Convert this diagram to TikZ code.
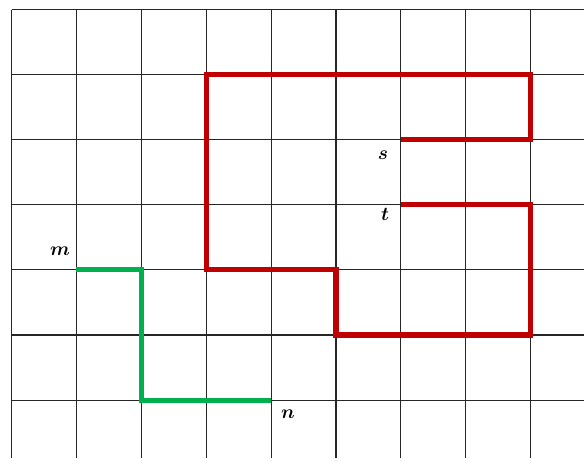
\documentclass[tikz,border=0pt]{standalone}
\usepackage{amsmath,bm}
\begin{document}
\begin{tikzpicture}[
  x=0.75pt, y=-0.75pt,
  grid/.style={draw=black!85, line width=0.8pt},
  redpath/.style={draw={rgb,255:red,192;green,0;blue,0}, line width=3.8pt, line join=miter},
  greenpath/.style={draw={rgb,255:red,0;green,176;blue,80}, line width=3.8pt, line join=miter},
  lab/.style={font=\Large, inner sep=0pt}
]
\useasboundingbox (0,0) rectangle (584,458);
\fill[white] (0,0) rectangle (584,458);

% grid
\foreach \i in {0,...,8}
  \draw[grid] (11.5+64.9*\i,9.5) -- (11.5+64.9*\i,458);
\foreach \j in {0,...,6}
  \draw[grid] (11.5,9.5+65.1*\j) -- (584,9.5+65.1*\j);

% corner points
\coordinate (s) at (11.5+64.9*6,9.5+65.1*2);
\coordinate (r1) at (11.5+64.9*8,9.5+65.1*2);
\coordinate (r2) at (11.5+64.9*8,9.5+65.1*1);
\coordinate (r3) at (11.5+64.9*3,9.5+65.1*1);
\coordinate (r4) at (11.5+64.9*3,9.5+65.1*4);
\coordinate (r5) at (11.5+64.9*5,9.5+65.1*4);
\coordinate (r6) at (11.5+64.9*5,9.5+65.1*5);
\coordinate (r7) at (11.5+64.9*8,9.5+65.1*5);
\coordinate (r8) at (11.5+64.9*8,9.5+65.1*3);
\coordinate (t) at (11.5+64.9*6,9.5+65.1*3);

\coordinate (m) at (11.5+64.9*1,9.5+65.1*4);
\coordinate (g1) at (11.5+64.9*2,9.5+65.1*4);
\coordinate (g2) at (11.5+64.9*2,9.5+65.1*6);
\coordinate (n) at (11.5+64.9*4,9.5+65.1*6);

% paths
\draw[redpath] (s) -- (r1) -- (r2) -- (r3) -- (r4) -- (r5) -- (r6) -- (r7) -- (r8) -- (t);
\draw[greenpath] (m) -- (g1) -- (g2) -- (n);

% labels
\node[lab] (lm) at (60,251) {$\bm{m}$};
\node[lab] (ls) at (383,155) {$\bm{s}$};
\node[lab] (lt) at (385,214) {$\bm{t}$};
\node[lab] (ln) at (288,414) {$\bm{n}$};
\end{tikzpicture}
\end{document}
